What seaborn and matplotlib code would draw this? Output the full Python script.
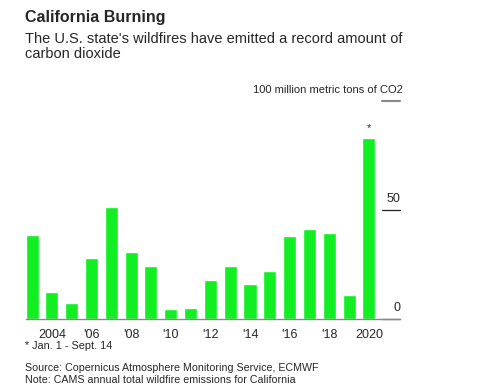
import pandas as pd
import numpy as np
import matplotlib
matplotlib.use("Agg")
import matplotlib.pyplot as plt
import seaborn as sns

# data
years = list(range(2003, 2021))
emissions = [38.6, 12.3, 7.6, 28.0, 51.4, 30.6, 24.5, 4.7, 5.0,
             18.0, 24.5, 16.3, 22.0, 38.1, 41.5, 39.3, 11.3, 83.1]
tick_years = [2004, 2006, 2008, 2010, 2012, 2014, 2016, 2018, 2020]
tick_labels = ["2004", "'06", "'08", "'10", "'12", "'14", "'16", "'18", "2020"]
y_ticks = [0, 50]

df = pd.DataFrame({"year": years, "co2": emissions})

sns.set_style("white")
plt.rcParams["font.family"] = ["Liberation Sans", "DejaVu Sans"]

fig = plt.figure(figsize=(5, 3.87), dpi=100)
ax = fig.add_axes([0.0514, 0.1749, 0.7486, 0.5649])

sns.barplot(data=df, x="year", y="co2", native_scale=True, width=0.66,
            color="#11ee22", saturation=1, ax=ax)

ax.set_xlim(2002.68, 2021.57)
ax.set_ylim(0, 100)
ax.set_xlabel("")
ax.set_ylabel("")

for s in ["top", "right", "left"]:
    ax.spines[s].set_visible(False)
ax.spines["bottom"].set_color("#888888")
ax.spines["bottom"].set_linewidth(1)

ax.set_xticks(tick_years)
ax.set_xticklabels(tick_labels, fontsize=9)
ax.tick_params(axis="x", length=4, width=1, color="#888888", pad=3)
ax.set_yticks([])

# right-side value markers
for v in y_ticks:
    ax.plot([2020.65, 2021.57], [v, v], color="#222222", lw=0.9, clip_on=False)
    ax.text(2021.57, v + 2.5, str(v), ha="right", va="bottom", fontsize=9)
ax.plot([2020.65, 2021.57], [100, 100], color="#888888", lw=1.5, clip_on=False)

# asterisk on partial year
ax.text(2020, emissions[-1] + 2, "*", ha="center", va="bottom", fontsize=8)

# titles and notes
fig.text(0.05, 0.955, "California Burning", fontsize=11.5, fontweight="bold", va="center")
fig.text(0.05, 0.9, "The U.S. state's wildfires have emitted a record amount of",
         fontsize=10.5, va="center")
fig.text(0.05, 0.86, "carbon dioxide", fontsize=10.5, va="center")
fig.text(0.806, 0.768, "100 million metric tons of CO2", fontsize=8, ha="right", va="center")
fig.text(0.05, 0.105, "* Jan. 1 - Sept. 14", fontsize=7.8, va="center")
fig.text(0.05, 0.05, "Source: Copernicus Atmosphere Monitoring Service, ECMWF",
         fontsize=7.7, va="center")
fig.text(0.05, 0.018, "Note: CAMS annual total wildfire emissions for California",
         fontsize=7.7, va="center")

fig.savefig("out.png", dpi=100)
